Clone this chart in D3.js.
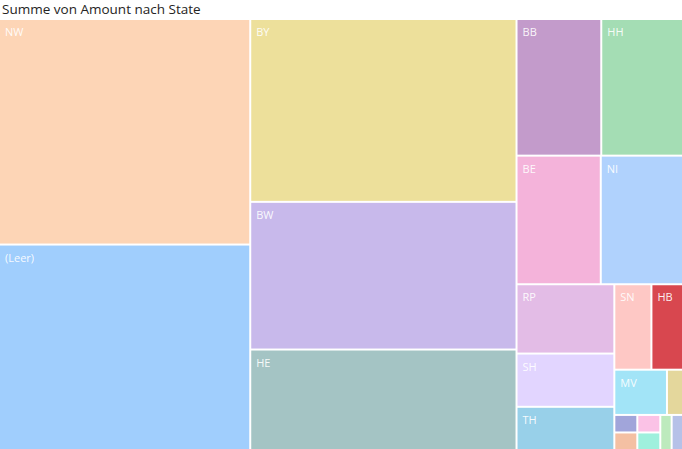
<!DOCTYPE html>
<html>
<head>
<meta charset="utf-8">
<script src="https://cdn.jsdelivr.net/npm/d3@7"></script>
<style>
  html, body { margin: 0; padding: 0; background: #ffffff; }
  svg { display: block; }
</style>
</head>
<body>
<div id="chart"></div>
<script>
// ---- data (values estimated from tile areas) ----
const title = "Summe von Amount nach State";
const states  = ["NW", "(Leer)", "BY", "BW", "HE", "BB", "HH", "BE", "NI", "RP", "SH", "TH", "SN", "HB", "MV", "ST", "SL", "LU", "AT", "CH", "NL", "FR"];
const amounts = [56237, 51227, 48321, 39029, 26550, 11492, 11084, 10752, 10496, 6728, 5168, 4193, 3145, 2678, 2363, 720, 400, 400, 400, 400, 395, 395];
const colors  = ["#fdd5b6", "#a0cefd", "#ede09b", "#c8b9eb", "#a4c4c4", "#c39bcb", "#a4ddb4", "#f4b3da", "#b0d2fd", "#e3bce6", "#e2d5ff", "#98d0e9", "#fec8c5", "#d8474f", "#a2e4f7", "#e4d79c", "#a1a5da", "#f4c0a3", "#fbc2e6", "#9ff0dd", "#bdeabd", "#b6c1e8"];

const W = 682, H = 449;
const topY = 20;

const svg = d3.select("#chart").append("svg")
  .attr("width", W).attr("height", H);

svg.append("text")
  .attr("x", 2).attr("y", 14)
  .attr("font-family", "'Open Sans', 'Segoe UI', sans-serif")
  .attr("font-size", 13.5)
  .attr("fill", "#252423")
  .text(title);

const data = { name: "root", children: states.map((s, i) => ({ name: s, value: amounts[i], color: colors[i] })) };

const root = d3.hierarchy(data)
  .sum(d => d.value || 0)
  .sort((a, b) => b.value - a.value);

d3.treemap()
  .tile(d3.treemapSquarify)
  .size([W, H - topY])
  .paddingInner(2)(root);

const g = svg.append("g").attr("transform", `translate(0,${topY})`);

const cell = g.selectAll("g.cell").data(root.leaves()).join("g")
  .attr("class", "cell")
  .attr("transform", d => `translate(${d.x0},${d.y0})`);

cell.append("rect")
  .attr("width", d => Math.max(0, d.x1 - d.x0))
  .attr("height", d => Math.max(0, d.y1 - d.y0))
  .attr("fill", d => d.data.color);

cell.append("text")
  .attr("x", 5).attr("y", 16)
  .attr("font-family", "'Open Sans', 'Segoe UI', sans-serif")
  .attr("font-size", 11)
  .attr("fill", "#ffffff")
  .attr("fill-opacity", 0.92)
  .text(d => d.data.name)
  .each(function(d) {
    const w = this.getComputedTextLength();
    if (w + 9 > d.x1 - d.x0 || d.y1 - d.y0 < 24) d3.select(this).remove();
  });
</script>
</body>
</html>
